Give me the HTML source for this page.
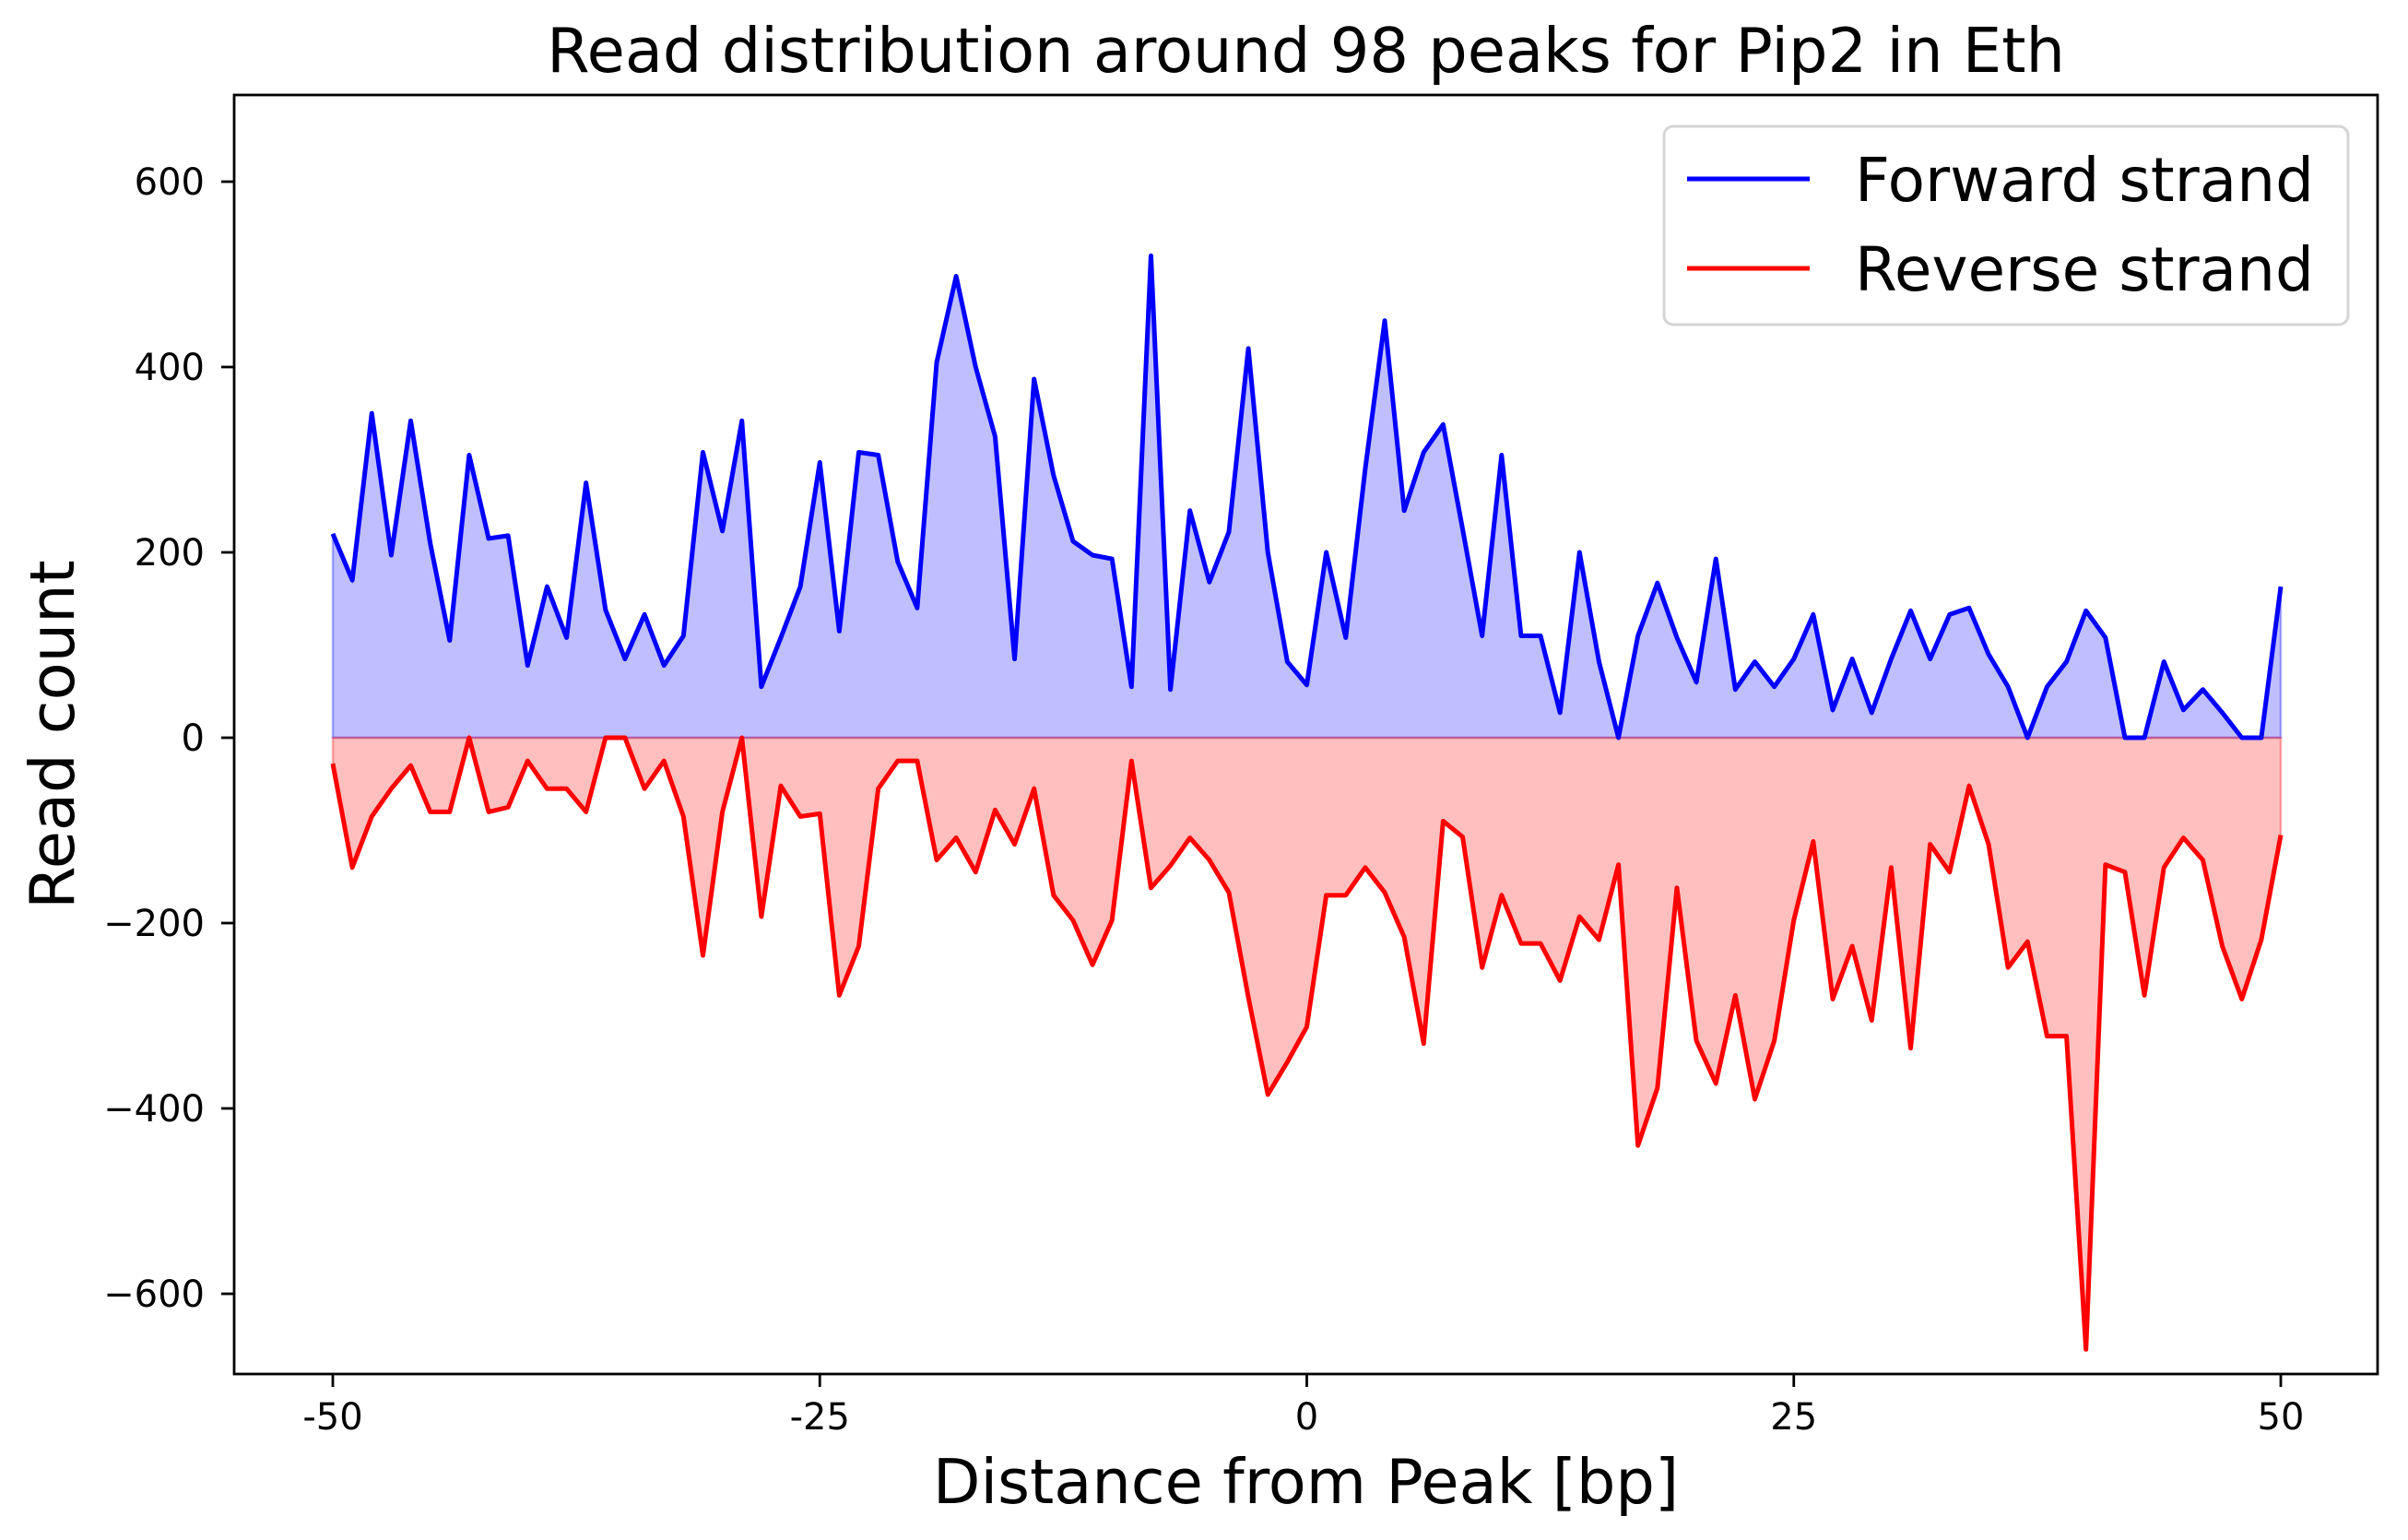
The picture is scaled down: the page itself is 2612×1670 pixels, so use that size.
<!DOCTYPE html>
<html><head><meta charset="utf-8"><style>
html,body{margin:0;padding:0;background:#fff;}
svg{display:block;font-family:"DejaVu Sans","Liberation Sans",sans-serif;}
</style></head><body>
<svg id="chart" width="2612" height="1670" viewBox="0 0 2612 1670" xmlns="http://www.w3.org/2000/svg"></svg>
<script>
const positions = [];
for (let i = -50; i <= 50; i++) positions.push(i);
const forwardCounts = [220,170,350,197,342,210,105,305,215,218,78,163,108,275,138,85,133,78,110,308,223,342,55,108,163,297,115,308,305,190,140,405,498,400,325,85,387,283,212,197,193,55,520,52,245,168,222,420,200,82,57,200,108,290,450,245,308,338,225,110,305,110,110,27,200,82,0,110,167,108,60,193,52,82,55,85,133,30,85,27,85,137,85,133,140,90,55,0,55,82,137,108,0,0,82,30,52,27,0,0,163];
const reverseCounts = [-28,-140,-85,-55,-30,-80,-80,0,-80,-75,-25,-55,-55,-80,0,0,-55,-25,-85,-235,-80,0,-193,-52,-85,-82,-278,-225,-55,-25,-25,-132,-108,-145,-78,-115,-55,-170,-197,-245,-197,-25,-162,-138,-108,-132,-167,-280,-385,-350,-312,-170,-170,-140,-167,-215,-330,-90,-107,-248,-170,-222,-222,-262,-193,-218,-137,-440,-378,-162,-327,-373,-278,-390,-327,-197,-112,-282,-225,-305,-140,-335,-115,-145,-52,-115,-248,-220,-322,-322,-660,-137,-145,-278,-140,-108,-132,-225,-282,-218,-105];
const xTicks = [-50,-25,0,25,50];
const yTicks = [-600,-400,-200,0,200,400,600];
const yTickLabels = ["\u2212600","\u2212400","\u2212200","0","200","400","600"];

const L=254,R=2579,T=103,B=1490;
const xs = v => 361 + (v+50)*(2474-361)/100;
const ys = v => 800 - v*(603/600);
const svg = document.getElementById('chart');
const NS='http://www.w3.org/2000/svg';
function mk(tag, attrs, parent){const e=document.createElementNS(NS,tag);for(const k in attrs)e.setAttribute(k,attrs[k]);(parent||svg).appendChild(e);return e;}

function areaPath(vals){let d='M'+xs(positions[0])+','+ys(0);positions.forEach((p,i)=>{d+=' L'+xs(p)+','+ys(vals[i]);});d+=' L'+xs(positions[positions.length-1])+','+ys(0)+' Z';return d;}
function linePath(vals){return positions.map((p,i)=>(i?'L':'M')+xs(p)+','+ys(vals[i])).join(' ');}

let e;
e=mk('path',{d:areaPath(forwardCounts),fill:'rgba(0,0,255,0.25)',stroke:'rgba(0,0,255,0.3)','stroke-width':2.5});


e=mk('path',{d:areaPath(reverseCounts),fill:'rgba(255,0,0,0.25)',stroke:'rgba(255,0,0,0.3)','stroke-width':2.5});


e=mk('path',{d:linePath(forwardCounts),fill:'none',stroke:'#0000ff','stroke-width':5,'stroke-linejoin':'round'});


e=mk('path',{d:linePath(reverseCounts),fill:'none',stroke:'#ff0000','stroke-width':5,'stroke-linejoin':'round'});



e=mk('rect',{x:L,y:T,width:R-L,height:B-T,fill:'none',stroke:'#000','stroke-width':2.8});



xTicks.forEach(t=>{
  const x=xs(t);
  e=mk('line',{x1:x,x2:x,y1:B,y2:B+14,stroke:'#000','stroke-width':2.8});
  
  
  e=mk('text',{x:x,y:1550,'font-size':40,'text-anchor':'middle'});
  e.textContent=String(t);
  
  
});
yTicks.forEach((t,i)=>{
  const y=ys(t);
  e=mk('line',{x1:L-14,x2:L,y1:y,y2:y,stroke:'#000','stroke-width':2.8});
  
  
  e=mk('text',{x:222,y:y+14,'font-size':40,'text-anchor':'end'});
  e.textContent=yTickLabels[i];
  
  
});

e=mk('text',{x:(L+R)/2,y:78,'font-size':67,'text-anchor':'middle'});
e.textContent='Read distribution around 98 peaks for Pip2 in Eth';


e=mk('text',{x:(L+R)/2,y:1630,'font-size':67,'text-anchor':'middle'});
e.textContent='Distance from Peak [bp]';


e=mk('text',{x:0,y:0,'font-size':67,'text-anchor':'middle',transform:'translate(80,'+((T+B)/2)+') rotate(-90)'});
e.textContent='Read count';



const lg=mk('g',{});


e=mk('rect',{x:1805,y:137,width:742,height:215,rx:10,fill:'#fff','fill-opacity':0.8,stroke:'#d5d5d5','stroke-width':3},lg);


[['Forward strand','#0000ff',194],['Reverse strand','#ff0000',291]].forEach(([lab,c,y])=>{
  e=mk('line',{x1:1830,x2:1963,y1:y,y2:y,stroke:c,'stroke-width':5},lg);
  
  
  e=mk('text',{x:2012,y:y+24,'font-size':66},lg);
  e.textContent=lab;
  
  
});
</script>
</body></html>
